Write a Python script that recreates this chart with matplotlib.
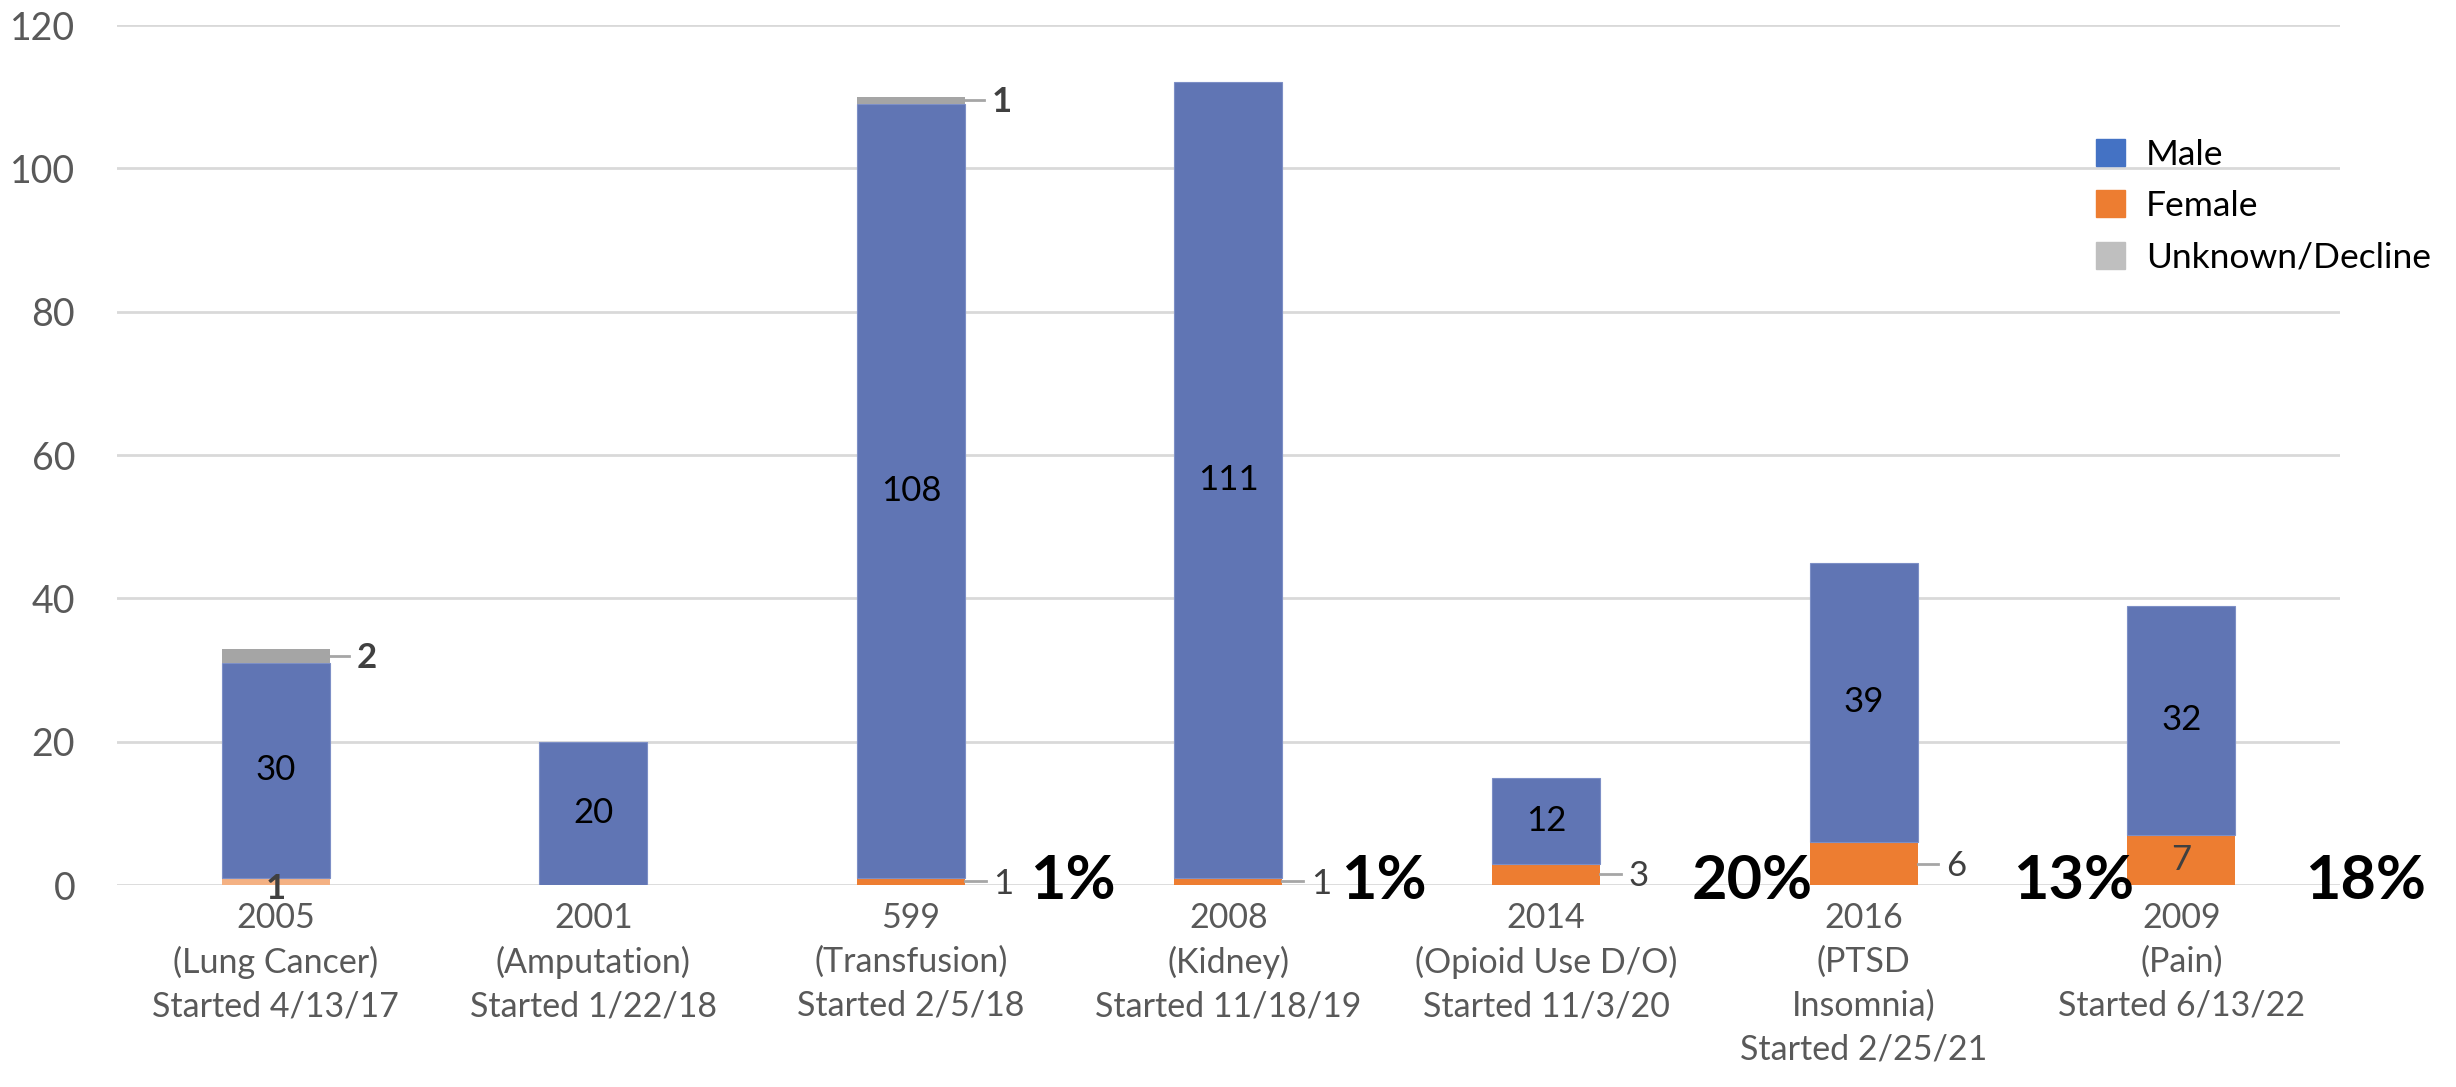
import numpy as np
import matplotlib
matplotlib.use("Agg")
from matplotlib import pyplot as plt
from matplotlib.patches import Patch

plt.rcParams['font.family'] = ['Lato', 'DejaVu Sans']

# data
categories = ["2005\n(Lung Cancer)\nStarted 4/13/17",
              "2001\n(Amputation)\nStarted 1/22/18",
              "599\n(Transfusion)\nStarted 2/5/18",
              "2008\n(Kidney)\nStarted 11/18/19",
              "2014\n(Opioid Use D/O)\nStarted 11/3/20",
              "2016\n(PTSD\nInsomnia)\nStarted 2/25/21",
              "2009\n(Pain)\nStarted 6/13/22"]
male = [30, 20, 108, 111, 12, 39, 32]
female = [1, 0, 1, 1, 3, 6, 7]
unknown = [2, 0, 1, 0, 0, 0, 0]
pct_labels = ["1%", "1%", "20%", "13%", "18%"]
pct_x = [2.51, 3.49, 4.65, 5.66, 6.58]

c_male = "#6075B4"
c_female = "#ED7D31"
c_female_light = "#F4B183"
c_unknown = "#A5A5A5"
txt = "#404040"

fig = plt.figure(figsize=(24.56, 10.87), dpi=100)
ax = fig.add_axes([0.0476, 0.1858, 0.9052, 0.7912])

x = np.arange(len(categories))
w = 0.34
fem_colors = [c_female_light] + [c_female] * (len(x) - 1)
female_arr = np.array(female)
male_arr = np.array(male)
unk_arr = np.array(unknown)

ax.bar(x, female_arr, w, color=fem_colors, zorder=3)
ax.bar(x, male_arr, w, bottom=female_arr, color=c_male, edgecolor="#7D8FC6", linewidth=0.8, zorder=3)
ax.bar(x, unk_arr, w, bottom=female_arr + male_arr, color=c_unknown, zorder=3)

# male labels
for i in x:
    ax.text(i, female_arr[i] + male_arr[i] / 2, str(male_arr[i]), ha="center", va="center",
            fontsize=25, color="black", zorder=5)

# female labels
for i in x:
    f = female_arr[i]
    if f == 0:
        continue
    if i == 0:
        ax.text(i, -0.6, str(f), ha="center", va="center", fontsize=25, fontweight="bold",
                color=txt, zorder=5)
    elif i == 6:
        ax.text(i, f / 2, str(f), ha="center", va="center", fontsize=25, color=txt, zorder=5)
    else:
        yc = f / 2
        ax.plot([i + w / 2, i + w / 2 + 0.065], [yc, yc], color="#A6A6A6", lw=2, zorder=4)
        ax.text(i + w / 2 + 0.09, yc - 0.3, str(f), ha="left", va="center", fontsize=25,
                color=txt, zorder=5)

# unknown labels
for i in x:
    u = unk_arr[i]
    if u == 0:
        continue
    yc = female_arr[i] + male_arr[i] + u / 2
    ax.plot([i + w / 2, i + w / 2 + 0.06], [yc, yc], color="#A6A6A6", lw=2, zorder=4)
    ax.text(i + w / 2 + 0.085, yc - 0.3, str(u), ha="left", va="center", fontsize=25,
            fontweight="bold", color=txt, zorder=5)

# percentage overlays
for px, pl in zip(pct_x, pct_labels):
    ax.text(px, 0.5, pl, ha="center", va="center", fontsize=44, fontweight="bold",
            color="black", zorder=6)

ax.set_xlim(-0.5, len(x) - 0.5)
ax.set_ylim(0, 120)
ax.set_yticks(np.arange(0, 121, 20))
ax.set_xticks(x)
ax.set_xticklabels(categories, fontsize=24.5, color="#595959", linespacing=1.45)
ax.tick_params(axis="y", labelsize=27, labelcolor="#595959", length=0, pad=30)
ax.tick_params(axis="x", length=0, pad=12)
ax.grid(axis="y", color="#D9D9D9", lw=2, zorder=0)
for s in ax.spines.values():
    s.set_visible(False)

handles = [Patch(color="#4472C4", label="Male"),
           Patch(color=c_female, label="Female"),
           Patch(color="#BFBFBF", label="Unknown/Decline")]
ax.legend(handles=handles, loc="upper left", bbox_to_anchor=(0.876, 0.905), frameon=False,
          fontsize=25.5, handlelength=0.8, handleheight=0.8, handletextpad=0.6, labelspacing=0.55)

fig.savefig("out.png", dpi=100)
